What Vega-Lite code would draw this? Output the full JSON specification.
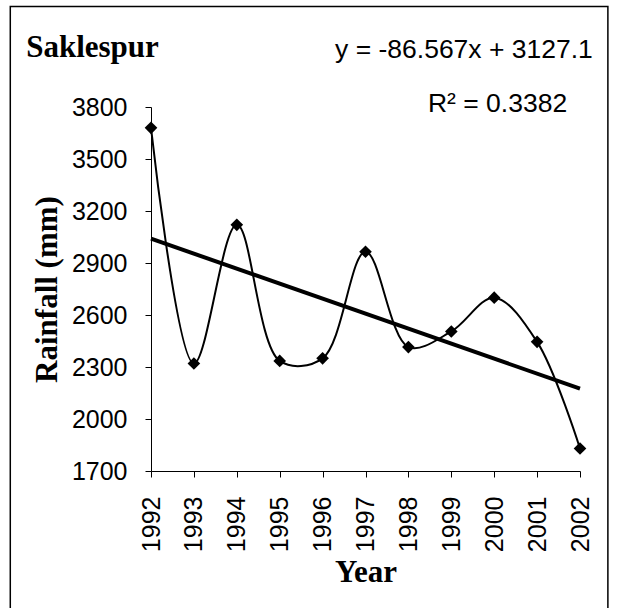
{
  "$schema": "https://vega.github.io/schema/vega-lite/v6.json",
  "width": 429,
  "height": 364,
  "autosize": {"type": "none"},
  "padding": {"left": 151, "top": 107, "right": 37, "bottom": 137},
  "background": "white",
  "config": {"view": {"stroke": null}},
  "datasets": {
    "rain": [
      {"year": 1992, "rainfall": 3680},
      {"year": 1993, "rainfall": 2320},
      {"year": 1994, "rainfall": 3120},
      {"year": 1995, "rainfall": 2335},
      {"year": 1996, "rainfall": 2350},
      {"year": 1997, "rainfall": 2965},
      {"year": 1998, "rainfall": 2415},
      {"year": 1999, "rainfall": 2505},
      {"year": 2000, "rainfall": 2700},
      {"year": 2001, "rainfall": 2445},
      {"year": 2002, "rainfall": 1830}
    ],
    "trend": [
      {"year": 1992, "rainfall": 3040.5},
      {"year": 2002, "rainfall": 2174.9}
    ]
  },
  "layer": [
    {
      "data": {"values": [{}]},
      "mark": {"type": "rect", "fill": null, "stroke": "black", "strokeWidth": 1.5},
      "encoding": {
        "x": {"datum": 1988.72, "type": "quantitative", "scale": {"domain": [1992, 2002], "nice": false, "zero": false}},
        "x2": {"datum": 2002.65},
        "y": {"datum": 4380, "type": "quantitative", "scale": {"domain": [1700, 3800], "nice": false, "zero": false}},
        "y2": {"datum": 700}
      }
    },
    {
      "data": {"name": "trend"},
      "mark": {"type": "line", "color": "black", "strokeWidth": 4},
      "encoding": {
        "x": {"field": "year", "type": "quantitative"},
        "y": {"field": "rainfall", "type": "quantitative"}
      }
    },
    {
      "data": {"name": "rain"},
      "mark": {"type": "line", "color": "black", "strokeWidth": 2, "interpolate": "catmull-rom"},
      "encoding": {
        "x": {
          "field": "year", "type": "quantitative",
          "axis": {
            "title": "Year",
            "values": [1992, 1993, 1994, 1995, 1996, 1997, 1998, 1999, 2000, 2001, 2002],
            "format": "d",
            "labelAngle": -90,
            "labelFont": "Liberation Sans",
            "labelFontSize": 25,
            "labelColor": "black",
            "labelPadding": 19,
            "tickSize": 6,
            "tickColor": "black",
            "domainColor": "black",
            "grid": false,
            "titleFont": "Liberation Serif",
            "titleFontSize": 31,
            "titleFontWeight": "bold",
            "titleColor": "black",
            "titlePadding": 6
          }
        },
        "y": {
          "field": "rainfall", "type": "quantitative",
          "axis": {
            "title": "Rainfall (mm)",
            "values": [1700, 2000, 2300, 2600, 2900, 3200, 3500, 3800],
            "format": "d",
            "labelFont": "Liberation Sans",
            "labelFontSize": 25,
            "labelColor": "black",
            "labelPadding": 18,
            "tickSize": 6,
            "tickColor": "black",
            "domainColor": "black",
            "grid": false,
            "titleFont": "Liberation Serif",
            "titleFontSize": 31,
            "titleFontWeight": "bold",
            "titleColor": "black",
            "titlePadding": 8
          }
        }
      }
    },
    {
      "data": {"name": "rain"},
      "mark": {"type": "point", "shape": "diamond", "filled": true, "color": "black", "size": 160, "opacity": 1},
      "encoding": {
        "x": {"field": "year", "type": "quantitative"},
        "y": {"field": "rainfall", "type": "quantitative"}
      }
    },
    {
      "data": {"values": [{}]},
      "mark": {"type": "text", "text": "Saklespur", "font": "Liberation Serif", "fontSize": 31, "fontWeight": "bold", "align": "left", "baseline": "alphabetic", "color": "black"},
      "encoding": {
        "x": {"datum": 1989.09, "type": "quantitative"},
        "y": {"datum": 4088, "type": "quantitative"}
      }
    },
    {
      "data": {"values": [{}]},
      "mark": {"type": "text", "text": "y = -86.567x + 3127.1", "font": "Liberation Sans", "fontSize": 26.5, "align": "right", "baseline": "alphabetic", "color": "black"},
      "encoding": {
        "x": {"datum": 2002.3, "type": "quantitative"},
        "y": {"datum": 4083, "type": "quantitative"}
      }
    },
    {
      "data": {"values": [{}]},
      "mark": {"type": "text", "text": "R² = 0.3382", "font": "Liberation Sans", "fontSize": 26.5, "align": "right", "baseline": "alphabetic", "color": "black"},
      "encoding": {
        "x": {"datum": 2001.7, "type": "quantitative"},
        "y": {"datum": 3771, "type": "quantitative"}
      }
    }
  ]
}
